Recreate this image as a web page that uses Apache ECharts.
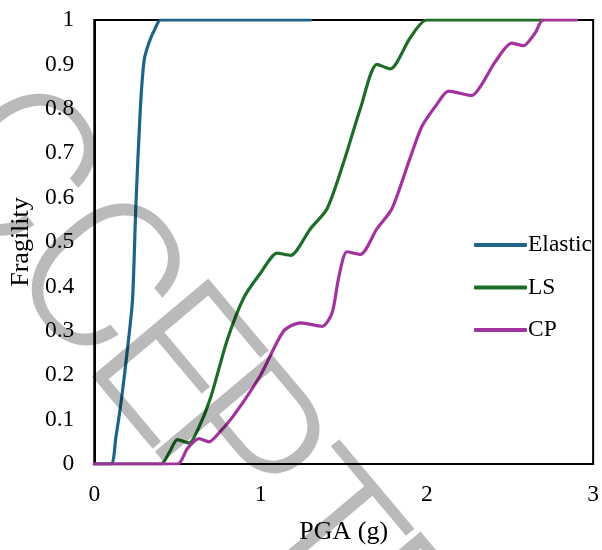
<!DOCTYPE html>
<html>
<head>
<meta charset="utf-8">
<script src="https://cdn.jsdelivr.net/npm/echarts@6/dist/echarts.min.js"></script>
<style>html,body{margin:0;padding:0;background:#fff}#c{width:602px;height:550px}</style>
</head>
<body>
<div id="c"></div>
<script>
var seriesNames = ['Elastic', 'LS', 'CP'];
var elasticX = [0, 0.1, 0.13, 0.165, 0.2, 0.23, 0.25, 0.277, 0.30, 0.33, 0.365, 0.40, 1.3];
var elasticY = [0, 0, 0.06, 0.15, 0.26, 0.37, 0.58, 0.80, 0.91, 0.95, 0.98, 1, 1];
var lsX = [0, 0.4, 0.45, 0.5, 0.57, 0.62, 0.7, 0.8, 0.9, 1.0, 1.1, 1.18, 1.3, 1.4, 1.5, 1.6, 1.7, 1.78, 1.9, 2.0, 2.7];
var lsY = [0, 0, 0.025, 0.055, 0.047, 0.075, 0.15, 0.28, 0.375, 0.43, 0.475, 0.47, 0.53, 0.575, 0.68, 0.80, 0.90, 0.89, 0.96, 1, 1];
var cpX = [0, 0.5, 0.56, 0.63, 0.69, 0.75, 0.84, 1.0, 1.14, 1.24, 1.37, 1.43, 1.47, 1.52, 1.6, 1.7, 1.79, 1.9, 1.97, 2.06, 2.13, 2.27, 2.33, 2.41, 2.51, 2.58, 2.65, 2.7, 2.9];
var cpY = [0, 0, 0.035, 0.057, 0.05, 0.07, 0.11, 0.20, 0.30, 0.318, 0.31, 0.34, 0.42, 0.478, 0.472, 0.53, 0.575, 0.69, 0.76, 0.81, 0.84, 0.83, 0.855, 0.905, 0.948, 0.942, 0.97, 1.0, 1];
var colors = ['#1d6488', '#1e6d26', '#a2329d'];
var watermarkLetters = ['A', 'C', 'C', 'E', 'P', 'T', 'E', 'D'];
var watermarkAlong = [-20, 146, 284, 398, 501, 622, 728, 843];
var watermarkAcross = [-86, -86, -92, -92, -92, -95, -92, -92];

function pairs(xs, ys) { return xs.map(function (x, i) { return [x, ys[i]]; }); }

var chart = echarts.init(document.getElementById('c'), null, {renderer: 'canvas'});
var font = 'Liberation Serif';
function mk(name, xs, ys, color) {
  return {
    name: name, type: 'line', data: pairs(xs, ys), symbol: 'none',
    smooth: 0.25,
    lineStyle: {color: color, width: 3.2, cap: 'round', join: 'round'}, itemStyle: {color: color}
  };
}
var ang = 50 * Math.PI / 180;
var D = [Math.cos(ang), Math.sin(ang)], U = [Math.sin(ang), -Math.cos(ang)];
var wm = watermarkLetters.map(function (ch, i) {
  var d = watermarkAlong[i] - 9, u = watermarkAcross[i] - 26;
  return {
    type: 'text', x: d * D[0] + u * U[0], y: d * D[1] + u * U[1],
    rotation: -ang, z: 100, silent: true,
    style: {text: ch, fontFamily: 'Roboto', fontWeight: 300, fontSize: 214,
      fill: 'rgba(0,0,0,0.27)', align: 'center', verticalAlign: 'middle'}
  };
});
chart.setOption({
  animation: false,
  grid: {left: 93, right: 7, top: 20, bottom: 83, show: true, borderColor: '#000', borderWidth: 2, backgroundColor: 'transparent'},
  xAxis: {
    type: 'value', min: 0, max: 3, interval: 1,
    name: 'PGA (g)', nameLocation: 'middle', nameGap: 55,
    nameTextStyle: {fontFamily: font, fontSize: 26, color: '#000'},
    axisLine: {show: true, lineStyle: {color: '#000', width: 2}},
    axisTick: {show: false}, splitLine: {show: false},
    axisLabel: {fontFamily: font, fontSize: 23.5, color: '#000', margin: 19}
  },
  yAxis: {
    type: 'value', min: 0, max: 1, interval: 0.1,
    name: 'Fragility', nameLocation: 'middle', nameGap: 58,
    nameTextStyle: {fontFamily: font, fontSize: 26, color: '#000'},
    axisLine: {show: true, lineStyle: {color: '#000', width: 2}},
    axisTick: {show: false}, splitLine: {show: false},
    axisLabel: {fontFamily: font, fontSize: 23.5, color: '#000', margin: 20,
      formatter: function (v) { return String(Math.round(v * 10) / 10); }}
  },
  legend: {
    orient: 'vertical', left: 469, top: 228, itemWidth: 53, itemHeight: 4, itemGap: 18.5,
    icon: 'roundRect',
    data: seriesNames,
    textStyle: {fontFamily: font, fontSize: 23.5, color: '#000', padding: [0, 0, 0, -4]}
  },
  series: [
    mk(seriesNames[0], elasticX, elasticY, colors[0]),
    mk(seriesNames[1], lsX, lsY, colors[1]),
    mk(seriesNames[2], cpX, cpY, colors[2])
  ],
  graphic: wm
});
</script>
</body>
</html>
